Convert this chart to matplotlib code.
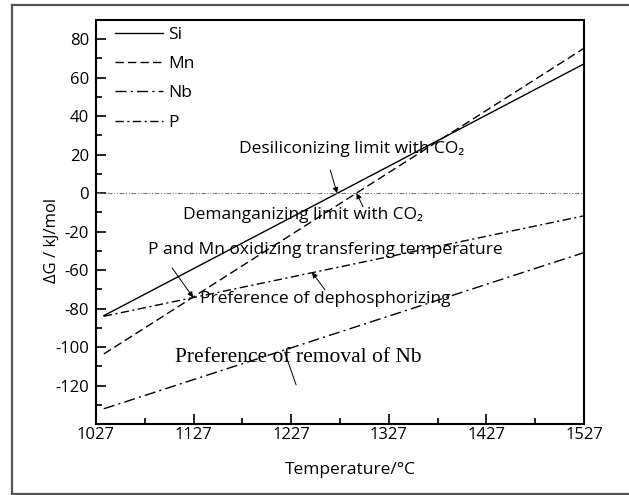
import numpy as np
import matplotlib as mpl
mpl.use('Agg')
import matplotlib.pyplot as plt
from matplotlib.lines import Line2D

plt.rcParams['font.family'] = ['Open Sans', 'DejaVu Sans']

# datos (extremos de cada recta)
temp = [1035, 1527]
si = [-63.7, 67.2]
mn = [-83.6, 75.3]
nb = [-112.1, -30.9]
p = [-64.0, -11.8]

x_ticks = [1027, 1127, 1227, 1327, 1427, 1527]
y_ticks = [80, 60, 40, 20, 0, -20, -40, -60, -80, -100]
# el original salta el -40 en las etiquetas
y_labels = ['80', '60', '40', '20', '0', '-20', '-60', '-80', '-100', '-120']

fig = plt.figure(figsize=(6.29, 4.95), dpi=100)
ax = fig.add_axes([96/629, 1-424/495, (584-96)/629, (424-20)/495])

ax.plot(temp, si, color='black', lw=1.0, label='Si')
ax.plot(temp, mn, color='black', lw=1.0, dashes=(6, 3), label='Mn')
ax.plot(temp, nb, color='black', lw=1.0, dashes=(8, 3, 1.5, 3), label='Nb')
ax.plot(temp, p, color='black', lw=1.0, dashes=(6, 2.5, 1.5, 2.5), label='P')
ax.axhline(0, color='#777777', lw=0.8, dashes=(4, 1.5, 1, 1.5, 1, 1.5))

ax.set_xlim(1027, 1527)
ax.set_ylim(-120, 90)
ax.set_xticks(x_ticks)
ax.set_xticks([t + 50 for t in x_ticks[:-1]], minor=True)
ax.set_yticks(y_ticks)
ax.set_yticklabels(y_labels)
ax.set_yticks(np.arange(-110, 90, 10), minor=True)
ax.tick_params(which='both', direction='in', top=False, right=False, width=1.2, labelsize=12)
ax.tick_params(which='major', length=7)
ax.tick_params(which='minor', length=4)
ax.tick_params(axis='y', pad=5)
ax.tick_params(axis='x', pad=2)
for s in ax.spines.values():
    s.set_linewidth(1.5)

leg = ax.legend(loc='upper left', frameon=False, fontsize=12.5, handlelength=2.75,
                handletextpad=0.3, labelspacing=0.75, bbox_to_anchor=(0.025, 1.0),
                borderaxespad=0)

arrow = dict(arrowstyle='-|>', color='black', lw=0.7, mutation_scale=8, shrinkA=0, shrinkB=0)
fs = 12.5
ax.text(1173.5, 23.0, 'Desiliconizing limit with CO₂', fontsize=fs, va='center')
ax.annotate('', xy=(1274, 0), xytext=(1267, 12), arrowprops=arrow)
ax.text(1116, -11.3, 'Demanganizing limit with CO₂', fontsize=fs, va='center')
ax.annotate('', xy=(1294, 0), xytext=(1300.6, -7.1), arrowprops=arrow)
ax.text(1080.3, -29.5, 'P and Mn oxidizing transfering temperature', fontsize=fs, va='center')
ax.annotate('', xy=(1126.5, -54.2), xytext=(1104.9, -38.8), arrowprops=arrow)
ax.text(1133.6, -54.9, 'Preference of dephosphorizing', fontsize=fs, va='center')
ax.annotate('', xy=(1248.3, -41.2), xytext=(1261.6, -50.2), arrowprops=arrow)
ax.text(1108, -85.6, 'Preference of removal of Nb', fontsize=15.5, va='center',
        family='Liberation Serif')
ax.annotate('', xy=(1219.6, -81.6), xytext=(1233, -101.1),
            arrowprops=dict(arrowstyle='-', color='black', lw=0.7))

fig.text(52/629, 1-240/495, 'ΔG / kJ/mol', rotation=90, fontsize=12, ha='center', va='center')
fig.text(350/629, 1-470/495, 'Temperature/°C', fontsize=12.5, ha='center', va='center')

# marco exterior
fc = '#555555'
fig.add_artist(Line2D([12/629, 12/629], [1-494/495, 1-5/495], color=fc, lw=1.6))
fig.add_artist(Line2D([12/629, 1.0], [1-5/495, 1-5/495], color=fc, lw=1.6))
fig.add_artist(Line2D([12/629, 1.0], [1-494/495, 1-494/495], color=fc, lw=1.6))

fig.savefig('out.png', dpi=100)
